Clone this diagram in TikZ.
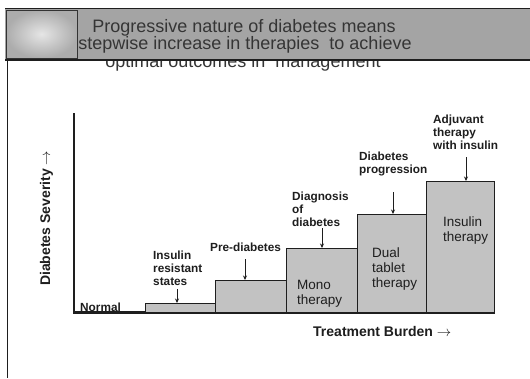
\documentclass[tikz,border=0pt]{standalone}
\usepackage{fontspec}
\setmainfont{Liberation Sans}
\usetikzlibrary{arrows.meta}
\definecolor{bandgray}{HTML}{A4A4A4}
\definecolor{boxgray}{HTML}{C2C2C2}
\definecolor{ink}{HTML}{1E1E1E}
\begin{document}
\begin{tikzpicture}[x=1pt,y=-1pt,
  lab/.style={font=\fontsize{11.8}{13}\selectfont\bfseries, align=left, anchor=north west, inner sep=0pt, text=ink},
  boxtxt/.style={font=\fontsize{13.5}{15}\selectfont, align=left, anchor=north west, inner sep=0pt, text=ink},
  stepbox/.style={draw=ink, line width=0.8pt, fill=boxgray, anchor=south west, inner sep=0pt, outer sep=0pt},
  pointer/.style={draw=ink, line width=1pt, -{Stealth[length=4.5pt,width=4pt]}},
  titletxt/.style={font=\fontsize{18}{18}\selectfont, text=ink!90, anchor=base, inner sep=0pt},
  axislab/.style={font=\fontsize{14}{16}\selectfont\bfseries, text=ink, inner sep=0pt}]

\useasboundingbox (0,0) rectangle (530,378);
\fill[white] (0,0) rectangle (530,378);

% third title line, partly hidden by the band
\node[titletxt] (t3) at (243,67) {optimal outcomes in\ \ management};

% title band
\fill[bandgray] (5,8) rectangle (530,60);
\draw[ink, line width=1pt] (5,8) -- (530,8);
\draw[ink, line width=2.5pt] (5,60) -- (530,60);
\shade[inner color=gray!20, outer color=gray!65] (6,10) rectangle (77,58);
\draw[gray!40!black, line width=0.6pt] (6,10) rectangle (77,58);

\node[titletxt] (t1) at (244,32) {Progressive nature of diabetes means};
\node[titletxt] (t2) at (245,49) {stepwise increase in therapies\ \ to achieve};

% left border
\draw[ink, line width=1pt] (7,60) -- (7,378);

% steps
\node[stepbox, minimum width=70pt, minimum height=2pt] (normal) at (75,313) {};
\node[stepbox, minimum width=70pt, minimum height=10pt] (irbox) at (145,313) {};
\node[stepbox, minimum width=71pt, minimum height=33pt] (pdbox) at (215,313) {};
\node[stepbox, minimum width=71pt, minimum height=65pt] (monobox) at (286,313) {};
\node[stepbox, minimum width=69pt, minimum height=99pt] (dualbox) at (357,313) {};
\node[stepbox, minimum width=68pt, minimum height=132pt] (insbox) at (426,313) {};

% axes
\coordinate (origin) at (74,313);
\coordinate (ytop) at (74,113);
\coordinate (xend) at (495,313);
\draw[ink, line width=1.4pt] (ytop) -- (origin) -- (xend);

% box texts
\node[boxtxt] (monotxt) at (297,280) {Mono\\therapy};
\node[boxtxt] (dualtxt) at (372,248) {Dual\\tablet\\therapy};
\node[boxtxt] (instxt) at (443,217) {Insulin\\therapy};

% labels
\node[lab, anchor=base west] (normaltxt) at (80,311) {Normal};
\node[lab] (irlab) at (153,251) {Insulin\\resistant\\states};
\node[lab] (pdlab) at (210,243) {Pre-diabetes};
\node[lab] (dglab) at (292,192) {Diagnosis\\of\\diabetes};
\node[lab] (dplab) at (359,152) {Diabetes\\progression};
\node[lab] (adjlab) at (433,115) {Adjuvant\\therapy\\with insulin};

% pointers
\coordinate (a1) at (177,289);
\coordinate (a2) at (245,259);
\coordinate (a3) at (322,228);
\coordinate (a4) at (393,192);
\coordinate (a5) at (466,157);
\draw[pointer] (a1) -- (a1 |- irbox.north);
\draw[pointer] (a2) -- (a2 |- pdbox.north);
\draw[pointer] (a3) -- (a3 |- monobox.north);
\draw[pointer] (a4) -- (a4 |- dualbox.north);
\draw[pointer] (a5) -- (a5 |- insbox.north);

% axis labels
\node[axislab, anchor=base west] (xlab) at (313,336) {Treatment Burden $\rightarrow$};
\node[axislab, anchor=base west, rotate=90] (ylab) at (50,286) {Diabetes Severity $\rightarrow$};
\end{tikzpicture}
\end{document}
